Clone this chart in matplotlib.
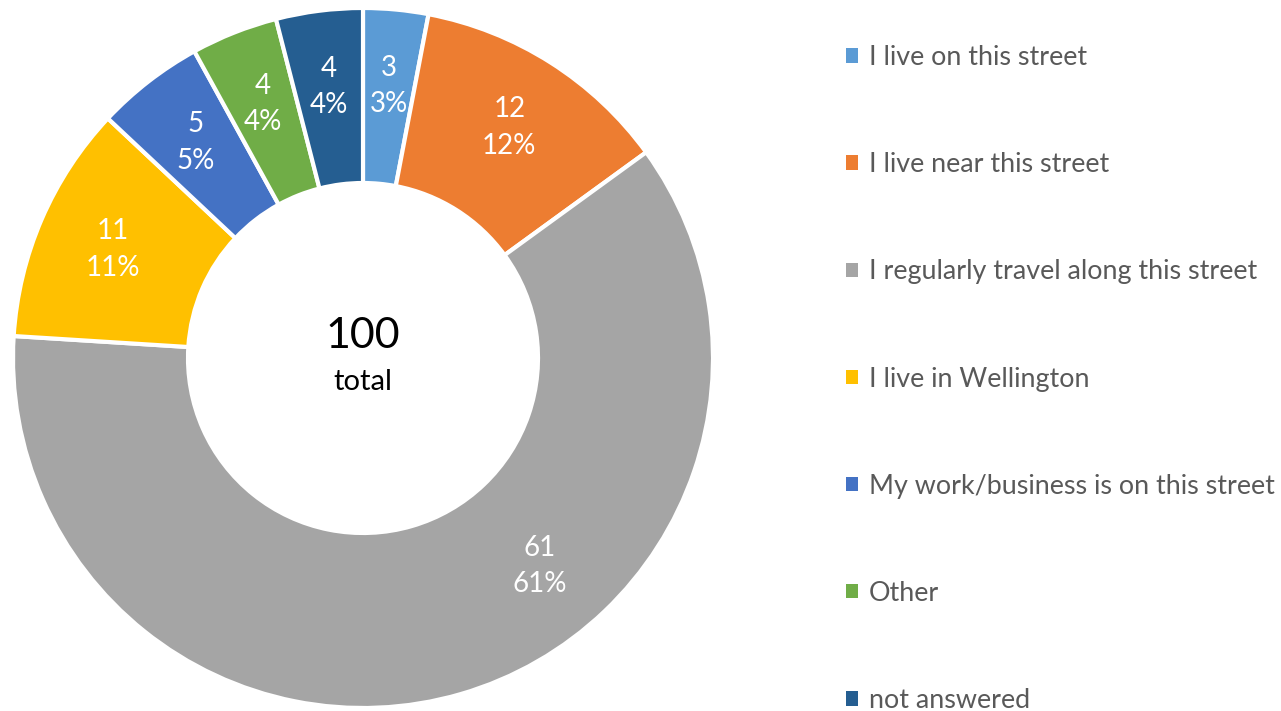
import matplotlib
matplotlib.use('Agg')
import matplotlib.pyplot as plt
import numpy as np

labels = ['I live on this street', 'I live near this street',
          'I regularly travel along this street', 'I live in Wellington',
          'My work/business is on this street', 'Other', 'not answered']
counts = [3, 12, 61, 11, 5, 4, 4]
colors = ['#5B9BD5', '#ED7D31', '#A5A5A5', '#FFC000', '#4472C4', '#70AD47', '#255E91']

plt.rcParams['font.family'] = ['Lato', 'DejaVu Sans']

W, H = 1281, 711
fig = plt.figure(figsize=(W / 100, H / 100), dpi=100)

# donut centre at (363, 358) px, outer radius ~350 px
cx, cy, r = 363, 358, 350
ax = fig.add_axes([(cx - r) / W, (H - cy - r) / H, 2 * r / W, 2 * r / H])

total = sum(counts)
wedges, _ = ax.pie(counts, colors=colors, startangle=90, counterclock=False,
                   radius=1.0, wedgeprops=dict(width=0.5, edgecolor='white', linewidth=3))
ax.set_xlim(-1, 1)
ax.set_ylim(-1, 1)
ax.set_aspect('equal')
ax.axis('off')

# slice labels in the ring (the big slice label sits a bit before its middle)
angle = 90.0
for v in counts:
    span = v / total * 360
    frac = 0.39 if v == max(counts) else 0.5
    mid = np.deg2rad(angle - span * frac)
    angle -= span
    rr = 0.78
    ax.text(rr * np.cos(mid), rr * np.sin(mid), f'{v}\n{v / total:.0%}',
            ha='center', va='center', color='white', fontsize=20, linespacing=1.5)

ax.text(0, 0.062, str(total), ha='center', va='center', fontsize=31, color='black')
ax.text(0, -0.068, 'total', ha='center', va='center', fontsize=21, color='black')

leg = fig.legend(wedges, labels, loc='upper left', bbox_to_anchor=(846 / W, 1 - 45 / H),
                 frameon=False, fontsize=19.4, labelcolor='#595959',
                 handlelength=0.44, handleheight=0.44, handletextpad=0.4,
                 labelspacing=3.05, borderpad=0, borderaxespad=0)
for h in leg.legend_handles:
    h.set_linewidth(0)

fig.savefig('out.png', dpi=100)
